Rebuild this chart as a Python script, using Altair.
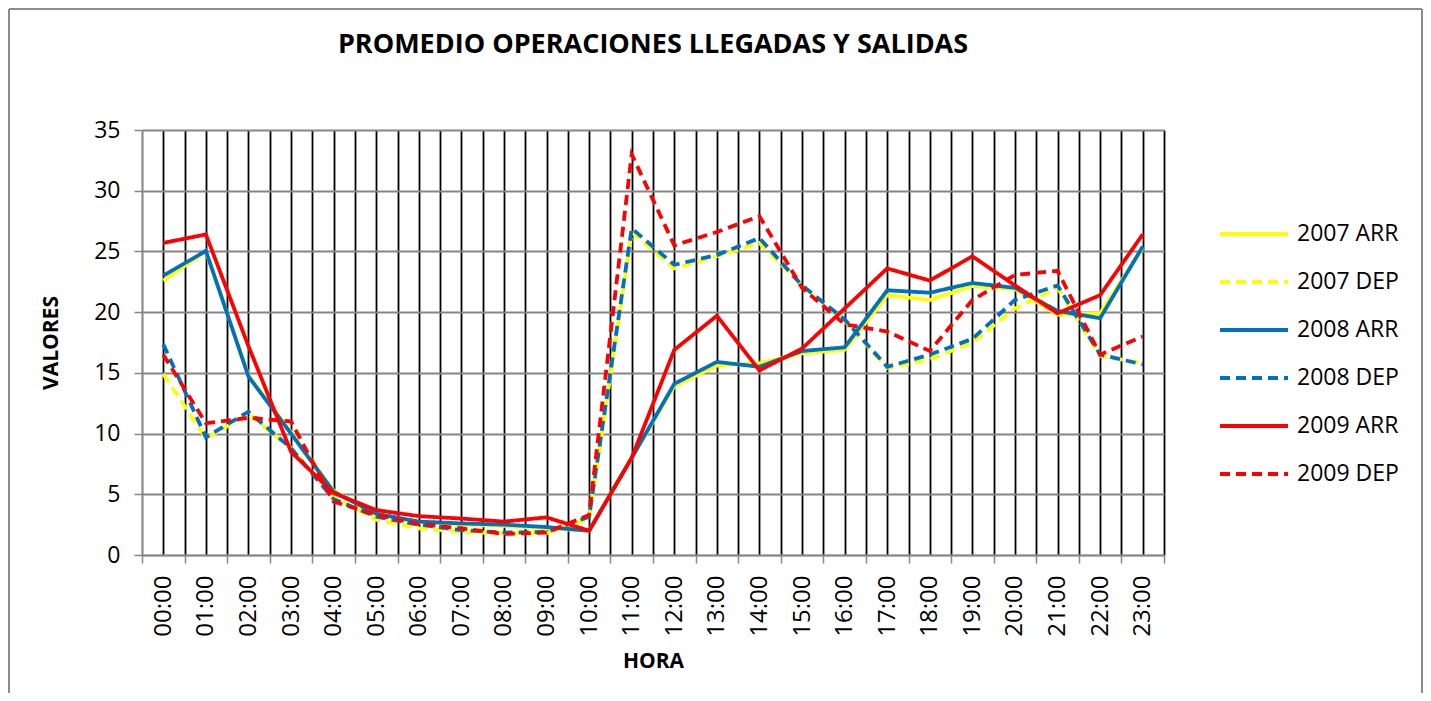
import altair as alt
import pandas as pd

# ---- data ----
chart_title = "PROMEDIO OPERACIONES LLEGADAS Y SALIDAS"

hours = ["00:00", "01:00", "02:00", "03:00", "04:00", "05:00", "06:00", "07:00",
         "08:00", "09:00", "10:00", "11:00", "12:00", "13:00", "14:00", "15:00",
         "16:00", "17:00", "18:00", "19:00", "20:00", "21:00", "22:00", "23:00"]

series_names = ["2007 ARR", "2007 DEP", "2008 ARR", "2008 DEP", "2009 ARR", "2009 DEP"]
series_colors = ["#FFFF00", "#FFFF00", "#0070C0", "#0070C0", "#FF0000", "#FF0000"]
series_dash = [[1, 0], [10, 6], [1, 0], [10, 6], [1, 0], [10, 6]]

arr_2007 = [22.6, 25.0, 14.8, 10.1, 5.3, 3.3, 2.7, 2.5, 2.4, 2.2, 2.0, 8.0,
            13.9, 15.6, 15.8, 16.6, 16.9, 21.4, 21.0, 22.15, 21.9, 19.8, 19.9, 25.3]
dep_2007 = [14.9, 9.6, 11.6, 8.8, 4.8, 2.9, 2.2, 1.9, 1.8, 1.8, 3.0, 26.6,
            23.6, 24.6, 25.7, 22.2, 19.3, 15.4, 16.1, 17.5, 20.3, 22.0, 16.4, 15.8]
arr_2008 = [23.0, 25.05, 14.7, 10.0, 5.2, 3.4, 2.75, 2.6, 2.5, 2.3, 2.0, 8.0,
            14.1, 15.9, 15.5, 16.8, 17.1, 21.8, 21.6, 22.4, 22.0, 20.1, 19.5, 25.4]
dep_2008 = [17.35, 9.7, 11.8, 8.8, 4.6, 3.15, 2.5, 2.05, 1.85, 1.9, 3.15, 26.9,
            23.9, 24.7, 26.1, 22.2, 19.4, 15.5, 16.5, 17.8, 21.0, 22.2, 16.5, 15.7]
arr_2009 = [25.7, 26.4, 17.2, 8.5, 5.1, 3.7, 3.2, 3.0, 2.75, 3.1, 2.0, 8.0,
            16.9, 19.7, 15.2, 17.0, 20.3, 23.6, 22.6, 24.6, 22.2, 19.9, 21.4, 26.4]
dep_2009 = [16.5, 10.85, 11.3, 11.0, 4.4, 3.3, 2.55, 2.2, 1.73, 1.85, 3.3, 33.0,
            25.5, 26.6, 27.9, 22.0, 19.0, 18.4, 16.8, 21.0, 23.06, 23.4, 16.5, 18.0]

y_ticks = [0, 5, 10, 15, 20, 25, 30, 35]

all_series = [arr_2007, dep_2007, arr_2008, dep_2008, arr_2009, dep_2009]
rows = []
for name, vals in zip(series_names, all_series):
    for i, v in enumerate(vals):
        rows.append({"series": name, "idx": i, "hora": hours[i], "valor": v})
df = pd.DataFrame(rows)

n = len(hours)
x_values = [i / 2 - 0.5 for i in range(2 * n + 1)]  # boundaries and centres
label_array = "[" + ",".join("'" + h + "'" for h in hours) + "]"

FONT = "Open Sans"
W, H = 1022, 425

x_axis = alt.Axis(
    values=x_values,
    labelExpr=f"datum.value % 1 == 0 ? {label_array}[datum.value] : ''",
    labelAngle=270,
    labelFont=FONT, labelFontSize=24, labelColor="#000000",
    labelOverlap=False, labelFlush=False, labelBound=False,
    labelPadding=12,
    tickSize=8, tickColor="#868686", tickWidth=1.5,
    tickOpacity={"condition": {"test": "datum.value % 1 == 0", "value": 0}, "value": 1},
    grid=True,
    gridColor={"condition": {"test": "datum.value < 0", "value": "#868686"}, "value": "#000000"},
    gridWidth=1.8,
    domainColor="#868686", domainWidth=1.5,
    title="HORA", titleFont=FONT, titleFontSize=21, titleFontWeight="bold",
    titleColor="#000000", titlePadding=14,
)

y_axis = alt.Axis(
    values=y_ticks,
    labelFont=FONT, labelFontSize=23, labelColor="#000000", labelPadding=14,
    tickSize=8, tickColor="#868686", tickWidth=1.5,
    grid=True, gridColor="#868686", gridWidth=1.8,
    domainColor="#868686", domainWidth=1.5,
    title="VALORES", titleFont=FONT, titleFontSize=21, titleFontWeight="bold",
    titleColor="#000000", titlePadding=32,
)

legend_cfg = dict(
    orient="none", legendX=1076, legendY=68, title=None,
    symbolType="stroke", symbolSize=4624, symbolStrokeWidth=4,
    labelFont=FONT, labelFontSize=23, labelColor="#000000", labelOffset=7,
    rowPadding=0,
)

lines = alt.Chart(df).mark_line(strokeWidth=3.8, clip=False).encode(
    x=alt.X("idx:Q", scale=alt.Scale(domain=[-0.5, n - 0.5], nice=False, zero=False),
            axis=x_axis),
    y=alt.Y("valor:Q", scale=alt.Scale(domain=[0, 35], nice=False), axis=y_axis),
    color=alt.Color("series:N", scale=alt.Scale(domain=series_names, range=series_colors),
                    legend=alt.Legend(**legend_cfg)),
    strokeDash=alt.StrokeDash("series:N", scale=alt.Scale(domain=series_names, range=series_dash),
                              legend=alt.Legend(**legend_cfg)),
)

title_df = pd.DataFrame({"t": [chart_title]})
title_mark = alt.Chart(title_df).mark_text(
    font=FONT, fontSize=27, fontWeight="bold", color="#000000",
    align="center", baseline="middle", clip=False,
).encode(text="t:N", x=alt.value(W / 2), y=alt.value(-85))

frame_color = "#8c8c8c"
frame_left = alt.Chart(title_df).mark_rule(color=frame_color, strokeWidth=2, clip=False).encode(
    x=alt.value(-133), y=alt.value(-121), y2=alt.value(563))
frame_top = alt.Chart(title_df).mark_rule(color=frame_color, strokeWidth=2, clip=False).encode(
    x=alt.value(-133), x2=alt.value(1280), y=alt.value(-121))
frame_right = alt.Chart(title_df).mark_rule(color=frame_color, strokeWidth=2, clip=False).encode(
    x=alt.value(1280), y=alt.value(-121), y2=alt.value(563))

chart = alt.layer(lines, title_mark, frame_left, frame_top, frame_right).properties(
    width=W, height=H,
    autosize=alt.AutoSizeParams(type="none"),
    padding={"left": 134, "top": 122, "right": 259, "bottom": 138},
).configure_view(stroke=None).configure(background="white")

chart.save("out.html", embed_options={"renderer": "svg", "actions": False})
